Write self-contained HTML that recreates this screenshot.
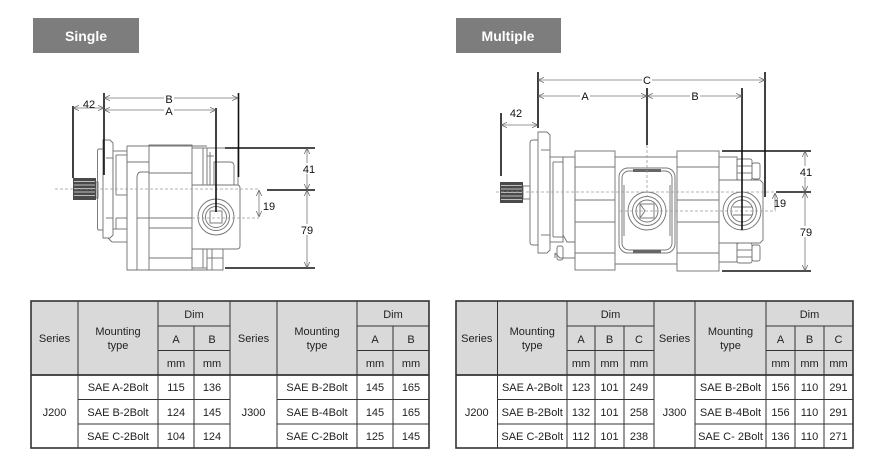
<!DOCTYPE html>
<html><head><meta charset="utf-8"><style>
html,body{margin:0;padding:0;background:#fff;}
svg{display:block;}
text{font-family:"Liberation Sans",Arial,sans-serif;}
</style></head><body>
<svg width="885" height="464" viewBox="0 0 885 464" xmlns="http://www.w3.org/2000/svg">
<defs>
<marker id="ar" viewBox="0 0 10 10" refX="10" refY="5" markerWidth="6" markerHeight="7" orient="auto-start-reverse" markerUnits="userSpaceOnUse">
<path d="M0,0.5 L10,5 L0,9.5" fill="none" stroke="#666" stroke-width="1.3"/>
</marker>
</defs>
<rect width="885" height="464" fill="#fff"/>

<!-- Title boxes -->
<rect x="33" y="18" width="106" height="35" fill="#7d7d7d"/>
<text x="86" y="41" font-size="14" font-weight="bold" fill="#fff" text-anchor="middle">Single</text>
<rect x="456" y="18" width="105" height="35" fill="#7d7d7d"/>
<text x="508" y="41" font-size="14" font-weight="bold" fill="#fff" text-anchor="middle">Multiple</text>

<!-- ================= SINGLE PUMP ================= -->
<g fill="none" stroke="#767676" stroke-width="0.95">
  <rect x="96" y="182" width="2" height="16"/>
  <path d="M103,149 H99 Q97.5,149 97.5,151 V228 Q97.5,230 99,230 H103"/>
  <path d="M103,140 H110 L113,143 V235 L110,238 H103 Z"/>
  <line x1="106" y1="158" x2="113" y2="158"/><line x1="106" y1="218" x2="113" y2="218"/>
  <line x1="108" y1="238" x2="112" y2="242"/><line x1="112" y1="242" x2="127" y2="242"/>
  <rect x="113" y="151" width="14" height="78"/>
  <line x1="116" y1="155" x2="127" y2="155"/>
  <line x1="116" y1="155" x2="116" y2="195"/>
  <line x1="116" y1="195" x2="127" y2="195"/>
  <line x1="116" y1="218" x2="127" y2="218"/>
  <line x1="116" y1="218" x2="116" y2="229"/>
  <path d="M127,146 H207 M127,146 V270 H207"/>
  <path d="M149,172 H141 Q137,172 137,178 V270"/>
  <line x1="127" y1="162" x2="149" y2="162"/>
  <rect x="149" y="145" width="43" height="125"/>
  <line x1="149" y1="173" x2="192" y2="173"/>
  <line x1="149" y1="218" x2="192" y2="218"/>
  <line x1="149" y1="258" x2="192" y2="258"/>
  <line x1="149" y1="228" x2="192" y2="228"/>
  <line x1="137" y1="218" x2="149" y2="218"/>
  <line x1="192" y1="148" x2="207" y2="148"/>
  <line x1="192" y1="268" x2="207" y2="268"/>
  <line x1="203" y1="148" x2="203" y2="185"/>
  <line x1="203" y1="249" x2="203" y2="268"/>
  <path d="M192,185 H237 Q240,185 240,188 V246 Q240,249 237,249 H192"/>
  <circle cx="216" cy="217" r="18"/>
  <circle cx="216" cy="217" r="13.5"/>
  <circle cx="216" cy="217" r="10.5"/>
  <rect x="210" y="211" width="12" height="12"/>
  <rect x="207" y="148" width="31" height="37"/>
  <path d="M214,185 V162 H230 Q234,162 234,166 V185"/>
  <line x1="207" y1="156" x2="214" y2="156"/>
  <line x1="210" y1="152" x2="210" y2="185"/>
  <rect x="207" y="249" width="16" height="21"/>
  <line x1="212" y1="249" x2="212" y2="270"/>
  <line x1="207" y1="258" x2="223" y2="258"/>
</g>
<rect x="73" y="178" width="23" height="22" fill="#4a4a4a"/>
<g stroke="#bdbdbd" stroke-width="0.9">
  <line x1="74" y1="181.5" x2="95" y2="181.5"/>
  <line x1="74" y1="185" x2="95" y2="185"/>
  <line x1="74" y1="188.5" x2="95" y2="188.5"/>
  <line x1="74" y1="192" x2="95" y2="192"/>
  <line x1="74" y1="195.5" x2="95" y2="195.5"/>
</g>
<g stroke="#9a9a9a" stroke-width="0.8" stroke-dasharray="3,2" fill="none">
  <line x1="55" y1="189" x2="258" y2="189"/>
  <line x1="192" y1="218" x2="259" y2="218"/>
</g>
<g stroke="#111" stroke-width="1.6">
  <line x1="73" y1="106" x2="73" y2="178"/>
  <line x1="104" y1="93" x2="104" y2="175"/>
  <line x1="216" y1="108" x2="216" y2="212"/>
  <line x1="238.5" y1="93" x2="238.5" y2="177"/>
  <line x1="225" y1="148" x2="315" y2="148"/>
  <line x1="267" y1="190" x2="315" y2="190"/>
  <line x1="225" y1="268" x2="315" y2="268"/>
</g>
<g stroke="#777" stroke-width="0.8" fill="none">
  <line x1="104" y1="98" x2="238" y2="98" marker-start="url(#ar)" marker-end="url(#ar)"/>
  <line x1="104" y1="110" x2="216" y2="110" marker-start="url(#ar)" marker-end="url(#ar)"/>
  <line x1="73" y1="108" x2="104" y2="108" marker-start="url(#ar)" marker-end="url(#ar)"/>
  <line x1="307" y1="148" x2="307" y2="190" marker-start="url(#ar)" marker-end="url(#ar)"/>
  <line x1="307" y1="190" x2="307" y2="268" marker-start="url(#ar)" marker-end="url(#ar)"/>
  <line x1="259" y1="190" x2="259" y2="217" marker-start="url(#ar)" marker-end="url(#ar)"/>
</g>
<g font-size="11" fill="#111" text-anchor="middle">
  <rect x="164" y="94" width="10" height="9" fill="#fff"/>
  <text x="169" y="103">B</text>
  <rect x="164" y="106" width="10" height="9" fill="#fff"/>
  <text x="169" y="115">A</text>
  <text x="89" y="108">42</text>
  <rect x="302" y="163" width="14" height="11" fill="#fff"/>
  <text x="309" y="173">41</text>
  <rect x="300" y="224" width="14" height="11" fill="#fff"/>
  <text x="307" y="234">79</text>
  <text x="269" y="210">19</text>
</g>

<!-- ================= MULTIPLE PUMP ================= -->
<g fill="none" stroke="#767676" stroke-width="0.95">
  <rect x="523" y="186" width="7" height="13"/>
  <path d="M538,140 H533 Q530,140 530,143 V242 Q530,245 533,245 H538"/>
  <path d="M538,132 H547 L550,135 V250 L547,253 H538 Z"/>
  <line x1="541" y1="150" x2="550" y2="150"/>
  <line x1="541" y1="235" x2="550" y2="235"/>
  <rect x="550" y="157" width="13" height="85"/>
  <line x1="553" y1="162" x2="563" y2="162"/>
  <line x1="553" y1="162" x2="553" y2="237"/>
  <line x1="553" y1="237" x2="563" y2="237"/>
  <path d="M563,157 H575 V262 M563,157 V235 L567,242 H575"/>
  <path d="M555,253 L560,258 H575 M555,253 V258"/>
  <rect x="557" y="246" width="6" height="14" rx="2"/>
  <rect x="575" y="151" width="40" height="119"/>
  <line x1="575" y1="167" x2="615" y2="167"/>
  <line x1="575" y1="200" x2="615" y2="200"/>
  <line x1="575" y1="222" x2="615" y2="222"/>
  <line x1="575" y1="253" x2="615" y2="253"/>
  <line x1="615" y1="157" x2="677" y2="157"/>
  <line x1="615" y1="264" x2="677" y2="264"/>
  <rect x="619" y="168" width="56" height="85" rx="9"/>
  <rect x="622" y="171" width="50" height="79" rx="7"/>
  <line x1="624" y1="185" x2="624" y2="236"/>
  <line x1="670" y1="185" x2="670" y2="236"/>
  <circle cx="647" cy="211" r="19"/>
  <circle cx="647" cy="211" r="14.5"/>
  <circle cx="647" cy="211" r="11"/>
  <rect x="640" y="204" width="14" height="14"/>
  <path d="M640,204 L645,211 L640,218"/>
  <rect x="677" y="151" width="42" height="120"/>
  <line x1="677" y1="167" x2="719" y2="167"/>
  <line x1="677" y1="200" x2="719" y2="200"/>
  <line x1="677" y1="222" x2="719" y2="222"/>
  <line x1="677" y1="253" x2="719" y2="253"/>
  <path d="M719,180 H760 L763,183 V240 L760,243 H719"/>
  <circle cx="742" cy="211" r="19"/>
  <circle cx="742" cy="211" r="14.5"/>
  <circle cx="742" cy="211" r="11"/>
  <line x1="733" y1="207" x2="752" y2="207"/>
  <line x1="733" y1="215" x2="752" y2="215"/>
  <path d="M719,157 H737 V180"/>
  <rect x="737" y="159" width="15" height="21" rx="2"/>
  <rect x="752" y="163" width="8" height="16" rx="2"/>
  <line x1="737" y1="166" x2="752" y2="166"/>
  <line x1="737" y1="173" x2="752" y2="173"/>
  <path d="M719,262 H737 V243"/>
  <rect x="737" y="243" width="15" height="20" rx="2"/>
  <rect x="752" y="245" width="8" height="16" rx="2"/>
  <line x1="737" y1="250" x2="752" y2="250"/>
  <line x1="737" y1="257" x2="752" y2="257"/>
</g>
<g fill="#666">
  <rect x="633" y="169" width="28" height="3"/>
  <rect x="633" y="250" width="28" height="3"/>
</g>
<rect x="500" y="182" width="23" height="21" fill="#4a4a4a"/>
<g stroke="#bdbdbd" stroke-width="0.9">
  <line x1="501" y1="185.5" x2="522" y2="185.5"/>
  <line x1="501" y1="189" x2="522" y2="189"/>
  <line x1="501" y1="192.5" x2="522" y2="192.5"/>
  <line x1="501" y1="196" x2="522" y2="196"/>
  <line x1="501" y1="199.5" x2="522" y2="199.5"/>
</g>
<g stroke="#9a9a9a" stroke-width="0.8" stroke-dasharray="3,2" fill="none">
  <line x1="496" y1="192" x2="776" y2="192"/>
  <line x1="620" y1="211" x2="776" y2="211"/>
  <line x1="647" y1="145" x2="647" y2="197"/>
</g>
<g stroke="#111" stroke-width="1.6">
  <line x1="501" y1="113" x2="501" y2="176"/>
  <line x1="538" y1="72" x2="538" y2="128"/>
  <line x1="647" y1="88" x2="647" y2="145"/>
  <line x1="742" y1="88" x2="742" y2="230"/>
  <line x1="765" y1="72" x2="765" y2="197"/>
  <line x1="722" y1="151" x2="811" y2="151"/>
  <line x1="776" y1="192" x2="811" y2="192"/>
  <line x1="722" y1="271" x2="811" y2="271"/>
</g>
<g stroke="#777" stroke-width="0.8" fill="none">
  <line x1="538" y1="80" x2="765" y2="80" marker-start="url(#ar)" marker-end="url(#ar)"/>
  <line x1="538" y1="96" x2="647" y2="96" marker-start="url(#ar)" marker-end="url(#ar)"/>
  <line x1="647" y1="96" x2="742" y2="96" marker-start="url(#ar)" marker-end="url(#ar)"/>
  <line x1="501" y1="125" x2="538" y2="125" marker-start="url(#ar)" marker-end="url(#ar)"/>
  <line x1="805" y1="151" x2="805" y2="192" marker-start="url(#ar)" marker-end="url(#ar)"/>
  <line x1="805" y1="192" x2="805" y2="271" marker-start="url(#ar)" marker-end="url(#ar)"/>
  <line x1="775" y1="193" x2="775" y2="210" marker-start="url(#ar)"/>
</g>
<g font-size="11" fill="#111" text-anchor="middle">
  <rect x="642" y="75" width="10" height="10" fill="#fff"/>
  <text x="647" y="84">C</text>
  <rect x="580" y="91" width="10" height="10" fill="#fff"/>
  <text x="585" y="100">A</text>
  <rect x="690" y="91" width="10" height="10" fill="#fff"/>
  <text x="695" y="100">B</text>
  <text x="516" y="117">42</text>
  <rect x="799" y="166" width="14" height="11" fill="#fff"/>
  <text x="806" y="176">41</text>
  <rect x="799" y="226" width="14" height="11" fill="#fff"/>
  <text x="806" y="236">79</text>
  <text x="780" y="207">19</text>
</g>

<!-- ================= LEFT TABLE ================= -->
<rect x="31" y="301" width="398" height="74" fill="#d9d9d9"/>
<g stroke="#333" stroke-width="1" fill="none">
  <line x1="78" y1="301" x2="78" y2="448"/>
  <line x1="158" y1="301" x2="158" y2="448"/>
  <line x1="194" y1="326" x2="194" y2="448"/>
  <line x1="230" y1="301" x2="230" y2="448"/>
  <line x1="277" y1="301" x2="277" y2="448"/>
  <line x1="357" y1="301" x2="357" y2="448"/>
  <line x1="393" y1="326" x2="393" y2="448"/>
  <line x1="158" y1="326" x2="230" y2="326"/>
  <line x1="158" y1="350.5" x2="230" y2="350.5"/>
  <line x1="357" y1="326" x2="429" y2="326"/>
  <line x1="357" y1="350.5" x2="429" y2="350.5"/>
  <line x1="78" y1="399.5" x2="230" y2="399.5"/>
  <line x1="78" y1="424" x2="230" y2="424"/>
  <line x1="277" y1="399.5" x2="429" y2="399.5"/>
  <line x1="277" y1="424" x2="429" y2="424"/>
  <line x1="31" y1="375" x2="429" y2="375" stroke-width="1.8"/>
  <rect x="31" y="301" width="398" height="147" stroke-width="1.6"/>
</g>
<g font-size="11" fill="#222" text-anchor="middle">
  <text x="54.5" y="342">Series</text>
  <text x="118" y="335">Mounting</text>
  <text x="118" y="349">type</text>
  <text x="194" y="318">Dim</text>
  <text x="176" y="343">A</text>
  <text x="212" y="343">B</text>
  <text x="176" y="367">mm</text>
  <text x="212" y="367">mm</text>
  <text x="253.5" y="342">Series</text>
  <text x="317" y="335">Mounting</text>
  <text x="317" y="349">type</text>
  <text x="393" y="318">Dim</text>
  <text x="375" y="343">A</text>
  <text x="411" y="343">B</text>
  <text x="375" y="367">mm</text>
  <text x="411" y="367">mm</text>

  <text x="54.5" y="416">J200</text>
  <text x="118" y="391">SAE A-2Bolt</text>
  <text x="118" y="416">SAE B-2Bolt</text>
  <text x="118" y="440">SAE C-2Bolt</text>
  <text x="176" y="391">115</text><text x="212" y="391">136</text>
  <text x="176" y="416">124</text><text x="212" y="416">145</text>
  <text x="176" y="440">104</text><text x="212" y="440">124</text>

  <text x="253.5" y="416">J300</text>
  <text x="317" y="391">SAE B-2Bolt</text>
  <text x="317" y="416">SAE B-4Bolt</text>
  <text x="317" y="440">SAE C-2Bolt</text>
  <text x="375" y="391">145</text><text x="411" y="391">165</text>
  <text x="375" y="416">145</text><text x="411" y="416">165</text>
  <text x="375" y="440">125</text><text x="411" y="440">145</text>
</g>

<!-- ================= RIGHT TABLE ================= -->
<rect x="456" y="301" width="397" height="74" fill="#d9d9d9"/>
<g stroke="#333" stroke-width="1" fill="none">
  <line x1="497.5" y1="301" x2="497.5" y2="448"/>
  <line x1="567" y1="301" x2="567" y2="448"/>
  <line x1="595" y1="326" x2="595" y2="448"/>
  <line x1="624" y1="326" x2="624" y2="448"/>
  <line x1="654" y1="301" x2="654" y2="448"/>
  <line x1="695" y1="301" x2="695" y2="448"/>
  <line x1="766" y1="301" x2="766" y2="448"/>
  <line x1="795" y1="326" x2="795" y2="448"/>
  <line x1="824" y1="326" x2="824" y2="448"/>
  <line x1="567" y1="326" x2="654" y2="326"/>
  <line x1="567" y1="350.5" x2="654" y2="350.5"/>
  <line x1="766" y1="326" x2="853" y2="326"/>
  <line x1="766" y1="350.5" x2="853" y2="350.5"/>
  <line x1="497.5" y1="399.5" x2="654" y2="399.5"/>
  <line x1="497.5" y1="424" x2="654" y2="424"/>
  <line x1="695" y1="399.5" x2="853" y2="399.5"/>
  <line x1="695" y1="424" x2="853" y2="424"/>
  <line x1="456" y1="375" x2="853" y2="375" stroke-width="1.8"/>
  <rect x="456" y="301" width="397" height="147" stroke-width="1.6"/>
</g>
<g font-size="11" fill="#222" text-anchor="middle">
  <text x="476.75" y="342">Series</text>
  <text x="532.25" y="335">Mounting</text>
  <text x="532.25" y="349">type</text>
  <text x="610.5" y="318">Dim</text>
  <text x="581" y="343">A</text>
  <text x="609.5" y="343">B</text>
  <text x="639" y="343">C</text>
  <text x="581" y="367">mm</text>
  <text x="609.5" y="367">mm</text>
  <text x="639" y="367">mm</text>
  <text x="674.5" y="342">Series</text>
  <text x="730.5" y="335">Mounting</text>
  <text x="730.5" y="349">type</text>
  <text x="809.5" y="318">Dim</text>
  <text x="780.5" y="343">A</text>
  <text x="809.5" y="343">B</text>
  <text x="838.5" y="343">C</text>
  <text x="780.5" y="367">mm</text>
  <text x="809.5" y="367">mm</text>
  <text x="838.5" y="367">mm</text>

  <text x="476.75" y="416">J200</text>
  <text x="532.25" y="391">SAE A-2Bolt</text>
  <text x="532.25" y="416">SAE B-2Bolt</text>
  <text x="532.25" y="440">SAE C-2Bolt</text>
  <text x="581" y="391">123</text><text x="609.5" y="391">101</text><text x="639" y="391">249</text>
  <text x="581" y="416">132</text><text x="609.5" y="416">101</text><text x="639" y="416">258</text>
  <text x="581" y="440">112</text><text x="609.5" y="440">101</text><text x="639" y="440">238</text>

  <text x="674.5" y="416">J300</text>
  <text x="730.5" y="391">SAE B-2Bolt</text>
  <text x="730.5" y="416">SAE B-4Bolt</text>
  <text x="730.5" y="440">SAE C- 2Bolt</text>
  <text x="780.5" y="391">156</text><text x="809.5" y="391">110</text><text x="838.5" y="391">291</text>
  <text x="780.5" y="416">156</text><text x="809.5" y="416">110</text><text x="838.5" y="416">291</text>
  <text x="780.5" y="440">136</text><text x="809.5" y="440">110</text><text x="838.5" y="440">271</text>
</g>
</svg>
</body></html>
